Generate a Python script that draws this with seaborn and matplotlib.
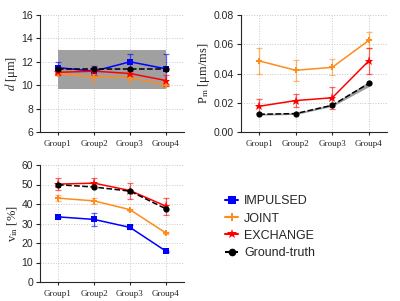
import pandas as pd
import seaborn as sns
import matplotlib.pyplot as plt
from matplotlib.lines import Line2D
import matplotlib.ticker as mticker

# data
groups = ["Group1", "Group2", "Group3", "Group4"]

d_impulsed = [11.5, 11.2, 12.0, 11.4]
d_impulsed_err = [0.5, 0.4, 0.65, 1.3]
d_joint = [11.0, 10.7, 10.65, 10.0]
d_joint_err = [0.15, 0.55, 0.5, 0.1]
d_exchange = [11.1, 11.2, 11.0, 10.4]
d_exchange_err = [0.2, 0.35, 0.25, 0.5]
d_truth = [11.35, 11.35, 11.35, 11.35]
d_truth_low = [9.65, 9.65, 9.65, 9.65]
d_truth_high = [13.0, 13.0, 13.0, 13.0]

pm_joint = [0.0486, 0.0422, 0.0442, 0.0626]
pm_joint_err = [0.0088, 0.0070, 0.0055, 0.0055]
pm_exchange = [0.0176, 0.0215, 0.0234, 0.0486]
pm_exchange_err = [0.0047, 0.0044, 0.0075, 0.0090]
pm_truth = [0.0121, 0.0126, 0.0183, 0.0332]
pm_truth_low = [0.0115, 0.0120, 0.0175, 0.0310]
pm_truth_high = [0.0127, 0.0132, 0.0190, 0.0345]

v_impulsed = [33.4, 32.1, 28.0, 15.8]
v_impulsed_err = [0.6, 3.5, 1.0, 0.3]
v_joint = [43.0, 41.6, 37.1, 25.1]
v_joint_err = [1.5, 1.5, 0.5, 0.5]
v_exchange = [50.2, 50.7, 46.9, 38.9]
v_exchange_err = [3.0, 2.6, 4.1, 4.3]
v_truth = [49.9, 48.7, 46.6, 37.5]

methods = ["IMPULSED", "JOINT", "EXCHANGE", "Ground-truth"]
colors = {"IMPULSED": "#0000ff", "JOINT": "#ff8c1a", "EXCHANGE": "#ff0000",
          "Ground-truth": "#000000"}
markers = {"IMPULSED": "s", "JOINT": "P", "EXCHANGE": "*", "Ground-truth": "o"}
msizes = {"IMPULSED": 4.5, "JOINT": 4.5, "EXCHANGE": 6.5, "Ground-truth": 4.5}

sns.set_style("ticks")
plt.rcParams["font.family"] = ["Liberation Sans", "DejaVu Sans"]
plt.rcParams["mathtext.fontset"] = "stix"


def draw(ax, series, band=None):
    rows = []
    for name, vals, err in series:
        for i, v in enumerate(vals):
            rows.append({"x": i, "y": v, "method": name})
    df = pd.DataFrame(rows)
    if band is not None:
        ax.fill_between(range(len(groups)), band[0], band[1], color="#a0a0a0",
                        lw=0, zorder=1)
    for name, vals, err in series:
        sub = df[df["method"] == name]
        sns.lineplot(data=sub, x="x", y="y", ax=ax, color=colors[name],
                     marker=markers[name], markersize=msizes[name],
                     markeredgewidth=0, lw=1.1, zorder=3,
                     ls="--" if name == "Ground-truth" else "-")
        if err is not None:
            ax.errorbar(range(len(vals)), vals, yerr=err, fmt="none",
                        ecolor=colors[name], elinewidth=0.9, capsize=2.5,
                        capthick=0.9, alpha=0.6, zorder=2)
    ax.set_xlim(-0.5, 3.5)
    ax.set_xticks(range(len(groups)))
    ax.set_xticklabels(groups, family="Liberation Serif", fontsize=6.5)
    ax.set_xlabel("")
    ax.tick_params(axis="y", labelsize=7.5, length=3, width=0.8, pad=2)
    ax.tick_params(axis="x", length=2, width=0.8)
    ax.grid(True, ls=":", color="#c8c8c8", lw=0.7)
    ax.set_axisbelow(True)
    for s in ["top", "right"]:
        ax.spines[s].set_visible(False)
    for s in ["left", "bottom"]:
        ax.spines[s].set_linewidth(0.8)


fig = plt.figure(figsize=(4, 3.01), dpi=100)

ax1 = fig.add_axes([40 / 400, 1 - 132 / 301, 144 / 400, 117 / 301])
draw(ax1, [("IMPULSED", d_impulsed, d_impulsed_err),
           ("JOINT", d_joint, d_joint_err),
           ("EXCHANGE", d_exchange, d_exchange_err),
           ("Ground-truth", d_truth, None)],
     band=(d_truth_low, d_truth_high))
ax1.set_ylim(6, 16)
ax1.set_yticks([6, 8, 10, 12, 14, 16])
ax1.set_ylabel(r"$d$ [μm]", family="Liberation Serif", fontsize=9, labelpad=1)

ax2 = fig.add_axes([241 / 400, 1 - 132 / 301, 146 / 400, 117 / 301])
draw(ax2, [("JOINT", pm_joint, pm_joint_err),
           ("EXCHANGE", pm_exchange, pm_exchange_err),
           ("Ground-truth", pm_truth, None)],
     band=(pm_truth_low, pm_truth_high))
ax2.set_ylim(0, 0.08)
ax2.set_yticks([0, 0.02, 0.04, 0.06, 0.08])
ax2.yaxis.set_major_formatter(mticker.FormatStrFormatter("%.2f"))
ax2.set_ylabel(r"P$_\mathrm{m}$ [μm/ms]", family="Liberation Serif",
               fontsize=9, labelpad=1)

ax3 = fig.add_axes([40 / 400, 1 - 282 / 301, 144 / 400, 117 / 301])
draw(ax3, [("IMPULSED", v_impulsed, v_impulsed_err),
           ("JOINT", v_joint, v_joint_err),
           ("EXCHANGE", v_exchange, v_exchange_err),
           ("Ground-truth", v_truth, None)])
ax3.set_ylim(0, 60)
ax3.set_yticks([0, 10, 20, 30, 40, 50, 60])
ax3.set_ylabel(r"v$_\mathrm{in}$ [%]", family="Liberation Serif", fontsize=9,
               labelpad=1)

handles = [Line2D([], [], color=colors[m], marker=markers[m],
                  markersize=msizes[m] + 1, markeredgewidth=0, lw=1.5,
                  ls="--" if m == "Ground-truth" else "-") for m in methods]
fig.legend(handles, methods, loc="upper left",
           bbox_to_anchor=(214 / 400, 1 - 184 / 301), frameon=False,
           fontsize=9, handlelength=1.0, handletextpad=0.5, labelspacing=0.42)

fig.savefig("out.png", dpi=100)
